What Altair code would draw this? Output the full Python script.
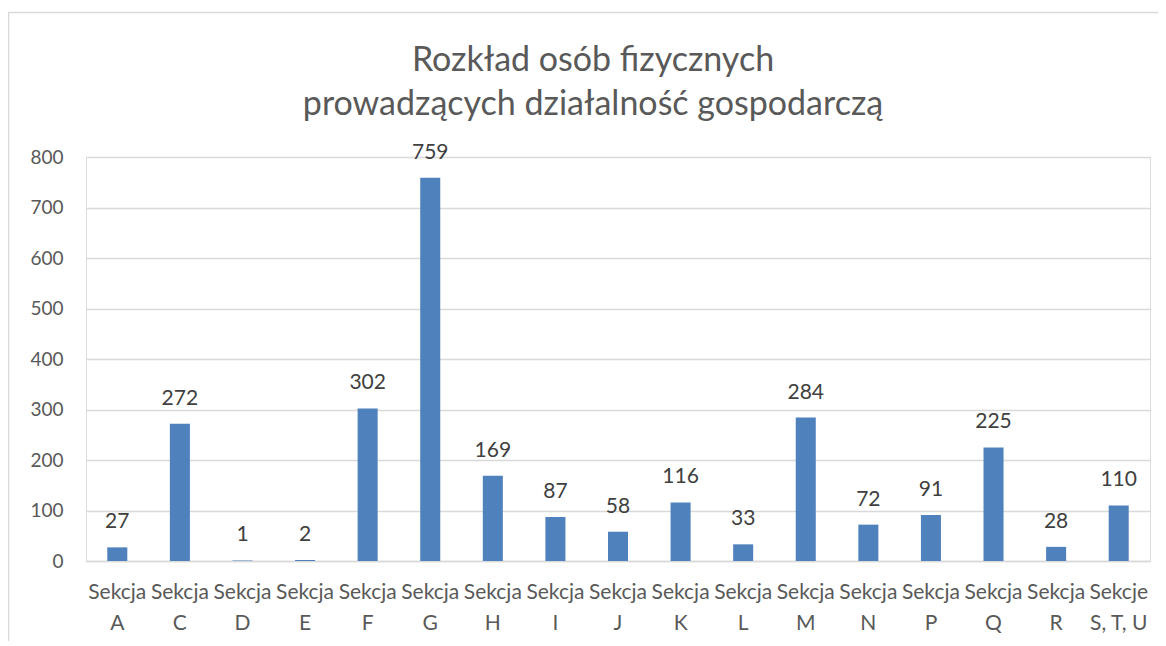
import altair as alt
import pandas as pd

categories = ["Sekcja A", "Sekcja C", "Sekcja D", "Sekcja E", "Sekcja F", "Sekcja G",
              "Sekcja H", "Sekcja I", "Sekcja J", "Sekcja K", "Sekcja L", "Sekcja M",
              "Sekcja N", "Sekcja P", "Sekcja Q", "Sekcja R", "Sekcje S, T, U"]
values = [27, 272, 1, 2, 302, 759, 169, 87, 58, 116, 33, 284, 72, 91, 225, 28, 110]
y_ticks = [0, 100, 200, 300, 400, 500, 600, 700, 800]
title_lines = ["Rozkład osób fizycznych", "prowadzących działalność gospodarczą"]

df = pd.DataFrame({"cat": categories, "val": values})

FONT = "Lato"
W, H = 1064, 404

x = alt.X("cat:N", sort=categories, title=None,
          scale=alt.Scale(paddingInner=0.68, paddingOuter=0.34),
          axis=alt.Axis(labelAngle=0, ticks=False, domain=True, domainColor="#D9D9D9",
                        domainWidth=1.5, labelFont=FONT, labelFontSize=21,
                        labelColor="#595959", labelPadding=20, labelLineHeight=31,
                        labelBaseline="top", labelLimit=0,
                        labelExpr="[slice(datum.label,0,6), slice(datum.label,7)]"))
y = alt.Y("val:Q", title=None,
          scale=alt.Scale(domain=[0, 800], nice=False),
          axis=alt.Axis(values=y_ticks, domain=False, ticks=False, grid=True,
                        gridColor="#D9D9D9", gridWidth=1.5, labelFont=FONT,
                        labelFontSize=19, labelColor="#595959", labelPadding=23))

bars = alt.Chart(df).mark_bar(color="#4F81BD").encode(x=x, y=y)
labels = alt.Chart(df).mark_text(font=FONT, fontSize=21, color="#404040",
                                 baseline="bottom", dy=-15).encode(
    x=alt.X("cat:N", sort=categories), y="val:Q", text="val:Q")

border = alt.Chart(df.head(1)).mark_rect(fill=None, stroke="#D9D9D9", strokeWidth=1.5,
                                         clip=False).encode(
    x=alt.value(-77.5), x2=alt.value(1100), y=alt.value(-144.5), y2=alt.value(600))

chart = alt.layer(border, bars, labels).properties(
    width=W, height=H,
    title=alt.TitleParams(title_lines, font=FONT, fontSize=34, fontWeight="normal",
                          color="#595959", anchor="middle", dx=-25, offset=-110,
                          lineHeight=44, frame="group"),
    padding={"left": 78, "top": 149, "right": 8, "bottom": 80},
    autosize=alt.AutoSizeParams(type="none"),
).configure_view(stroke=None).configure(background="white")

chart.save("out.html", embed_options={"renderer": "svg", "actions": False})
